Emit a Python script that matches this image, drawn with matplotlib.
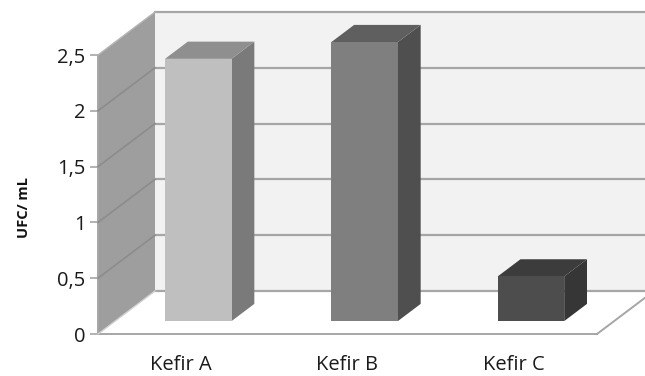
import matplotlib
matplotlib.use("Agg")
import matplotlib.pyplot as plt
from matplotlib.patches import Polygon

plt.rcParams['font.family'] = ['Open Sans', 'DejaVu Sans']

categories = ['Kefir A', 'Kefir B', 'Kefir C']
values = [2.35, 2.5, 0.40]
y_ticks = [0, 0.5, 1, 1.5, 2, 2.5]
y_tick_labels = ['0', '0,5', '1', '1,5', '2', '2,5']

front_colors = ['#bfbfbf', '#7f7f7f', '#4d4d4d']
top_colors = ['#8f8f8f', '#5f5f5f', '#3c3c3c']
side_colors = ['#7a7a7a', '#4f4f4f', '#363636']

line_color = '#a6a6a6'

# depth shift of the back wall, in data units
DX = 57 / 499 * 3
DY = 43 / 279 * 2.5
BAR_W = 0.40
D0, D1 = 0.30, 0.70


def proj(x, y, d):
    return (x + d * DX, y + d * DY)


def face(ax, pts, color, z, edge='none'):
    p = Polygon([proj(*q) for q in pts], closed=True, facecolor=color,
                edgecolor=edge, linewidth=0.8, clip_on=False, zorder=z)
    ax.add_patch(p)


W, H = 645, 376
fig = plt.figure(figsize=(W / 100, H / 100), dpi=100)
ax = fig.add_axes([98 / W, (H - 334) / H, 499 / W, 279 / H])
ax.set_xlim(0, 3)
ax.set_ylim(0, 2.5)
ax.patch.set_visible(False)

# back wall, side wall
face(ax, [(0, 0, 1), (3, 0, 1), (3, 2.5, 1), (0, 2.5, 1)], '#f2f2f2', 1)
face(ax, [(0, 0, 0), (0, 0, 1), (0, 2.5, 1), (0, 2.5, 0)], '#9e9e9e', 2)

# gridlines on both walls
for v in y_ticks:
    xs, ys = zip(proj(0, v, 1), proj(3, v, 1))
    ax.plot(xs, ys, color=line_color, lw=1.6, clip_on=False, zorder=3)
    if 0 < v < 2.5:
        xs, ys = zip(proj(0, v, 0), proj(0, v, 1))
        ax.plot(xs, ys, color='#8c8c8c', lw=1.2, clip_on=False, zorder=3)

# floor edges
xs, ys = zip(proj(0, 0, 0), proj(0, 0, 1))
ax.plot(xs, ys, color='#d0d0d0', lw=1, clip_on=False, zorder=3)
xs, ys = zip(proj(0, 2.5, 0), proj(0, 2.5, 1))
ax.plot(xs, ys, color='#b5b5b5', lw=1, clip_on=False, zorder=3)
xs, ys = zip(proj(3, 0, 0), proj(3, 0, 1))
ax.plot(xs, ys, color=line_color, lw=1.4, clip_on=False, zorder=3)

# bars
for i, v in enumerate(values):
    x0 = i + 0.5 - BAR_W / 2
    x1 = i + 0.5 + BAR_W / 2
    face(ax, [(x1, 0, D0), (x1, 0, D1), (x1, v, D1), (x1, v, D0)], side_colors[i], 5)
    face(ax, [(x0, v, D0), (x1, v, D0), (x1, v, D1), (x0, v, D1)], top_colors[i], 5)
    face(ax, [(x0, 0, D0), (x1, 0, D0), (x1, v, D0), (x0, v, D0)], front_colors[i], 6)

for s in ['top', 'right']:
    ax.spines[s].set_visible(False)
for s in ['left', 'bottom']:
    ax.spines[s].set_color(line_color)
    ax.spines[s].set_linewidth(1.4)

ax.set_yticks(y_ticks)
ax.set_yticklabels(y_tick_labels, fontsize=14.5, color='#1a1a1a')
ax.set_xticks([i + 0.5 for i in range(len(categories))])
ax.set_xticklabels(categories, fontsize=14.5, color='#1a1a1a')
ax.tick_params(axis='y', length=6, width=1.2, color=line_color, pad=3)
ax.tick_params(axis='x', length=0, pad=15)
ax.set_ylabel('UFC/ mL', fontsize=10.5, fontweight='bold', color='#111111')
ax.yaxis.set_label_coords(-67 / 499, (334 - 207) / 279)

fig.savefig('out.png', dpi=100, facecolor='white')
